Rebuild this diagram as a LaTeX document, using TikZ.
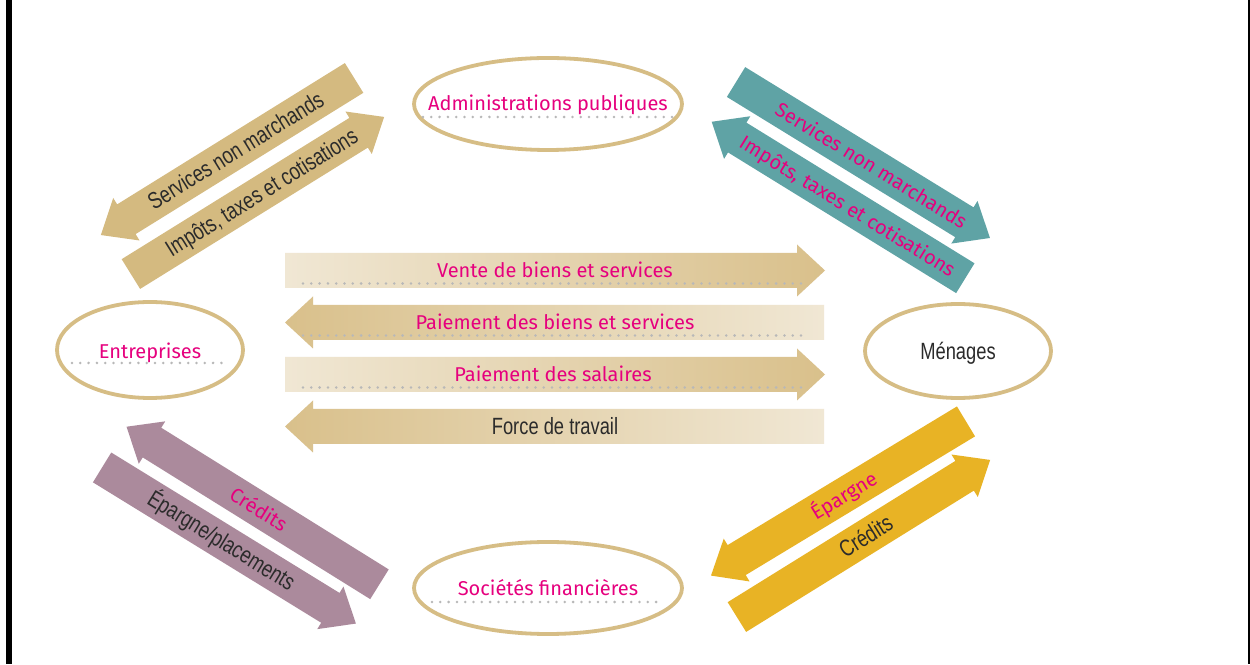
\documentclass[tikz,border=0pt]{standalone}
\usepackage{fontspec}
\setmainfont{Fira Sans}
\newfontfamily\condfont[FakeStretch=0.78]{Liberation Sans}
\usetikzlibrary{shapes.geometric}
\definecolor{mypink}{HTML}{E6007E}
\definecolor{darktxt}{HTML}{2B2B2B}
\definecolor{dotgray}{HTML}{B8B8B8}
\definecolor{ellcol}{HTML}{D6BD85}
\definecolor{tanA}{HTML}{D4BA80}
\definecolor{lightG}{HTML}{F0E7D4}
\definecolor{darkG}{HTML}{D9C08B}
\definecolor{tealA}{HTML}{5FA3A5}
\definecolor{mauveA}{HTML}{AB8A9C}
\definecolor{goldA}{HTML}{E8B325}

% diagonal arrow: cx, cy, angle, side (l/r), colour, text x offset, text style, text
\newcommand\darrow[8]{%
 \begin{scope}[shift={(#1,#2)},rotate=#3]
  \ifx l#4
   \fill[#5] (-149,0) -- (-119,25) -- (-119,17.5) -- (149,17.5) -- (149,-17.5) -- (-119,-17.5) -- (-119,-25) -- cycle;
  \else
   \fill[#5] (149,0) -- (119,25) -- (119,17.5) -- (-149,17.5) -- (-149,-17.5) -- (119,-17.5) -- (119,-25) -- cycle;
  \fi
  \node[#7,transform shape,anchor=base] at (#6,-7.5) {#8};
 \end{scope}}
% dotted underline inside a diagonal arrow: cx, cy, angle, side
\newcommand\dotrow[4]{%
 \begin{scope}[shift={(#1,#2)},rotate=#3]
  \ifx l#4 \draw[dotline] (-119,-13) -- (140,-13);
  \else \draw[dotline] (-140,-13) -- (119,-13); \fi
 \end{scope}}
% horizontal arrows (y centre in y-up coordinates)
\newcommand\harrowR[1]{(285,#1+17.5) -- (797,#1+17.5) -- (797,#1+26) -- (825,#1) -- (797,#1-26) -- (797,#1-17.5) -- (285,#1-17.5) -- cycle}
\newcommand\harrowL[1]{(824,#1+17.5) -- (313,#1+17.5) -- (313,#1+26) -- (285,#1) -- (313,#1-26) -- (313,#1-17.5) -- (824,#1-17.5) -- cycle}

\begin{document}
\begin{tikzpicture}[x=1pt,y=1pt,
  ptext/.style={text=mypink,font=\fontsize{20}{22}\selectfont,inner sep=0pt},
  dtext/.style={text=darktxt,font=\condfont\fontsize{23.5}{26}\selectfont,inner sep=0pt},
  dotline/.style={draw=dotgray,line width=2.8pt,line cap=round,dash pattern=on 0pt off 8.3pt},
  ell/.style={ellipse,draw=ellcol,line width=3.8pt,inner sep=0pt}]
\useasboundingbox (0,0) rectangle (1250,664);
\fill[white] (0,0) rectangle (1250,664);
\fill[black] (6,0) rectangle (12,664);
\fill[black] (1248,0) rectangle (1250,664);

% ellipses (agents)
\node[ell,minimum width=268pt,minimum height=92pt] (adm) at (548,560) {};
\node[ell,minimum width=186pt,minimum height=96pt] (ent) at (150,314) {};
\node[ell,minimum width=186pt,minimum height=94pt] (men) at (958,313) {};
\node[ell,minimum width=268pt,minimum height=92pt] (soc) at (548,76) {};
\node[ptext,anchor=base] (admT) at ([yshift=-7pt]adm.center) {Administrations publiques};
\draw[dotline] ([xshift=-125pt,yshift=-13pt]adm.center) -- ([xshift=124pt,yshift=-13pt]adm.center);
\node[ptext,anchor=base] (entT) at ([yshift=-9pt]ent.center) {Entreprises};
\draw[dotline] ([xshift=-78pt,yshift=-13pt]ent.center) -- ([xshift=78pt,yshift=-13pt]ent.center);
\node[dtext,anchor=base] (menT) at ([yshift=-8.5pt]men.center) {Ménages};
\node[ptext,anchor=base] (socT) at ([yshift=-8pt]soc.center) {Sociétés financières};
\draw[dotline] ([xshift=-116pt,yshift=-14pt]soc.center) -- ([xshift=115pt,yshift=-14pt]soc.center);

% horizontal flows
\path[left color=lightG,right color=darkG] \harrowR{393.5};
\path[left color=darkG,right color=lightG] \harrowL{341.5};
\path[left color=lightG,right color=darkG] \harrowR{289.5};
\path[left color=darkG,right color=lightG] \harrowL{237.5};
\draw[dotline] (303,380.5) -- (806,380.5);
\draw[dotline] (303,328.5) -- (806,328.5);
\draw[dotline] (303,276.5) -- (806,276.5);
\node[ptext,anchor=base] (f1) at (555,386) {Vente de biens et services};
\node[ptext,anchor=base] (f2) at (555,334) {Paiement des biens et services};
\node[ptext,anchor=base] (f3) at (553,282) {Paiement des salaires};
\node[dtext,anchor=base] (f4) at (555,229) {Force de travail};

% Entreprises <-> Administrations publiques
\darrow{227.5}{507.5}{31.82}{l}{tanA}{10}{dtext}{Services non marchands}
\darrow{257.5}{468.5}{31.82}{r}{tanA}{5}{dtext}{Impôts, taxes et cotisations}
% Administrations publiques <-> Ménages
\dotrow{863}{504}{-31.56}{r}
\darrow{863}{504}{-31.56}{r}{tealA}{10}{ptext}{Services non marchands}
\dotrow{838.5}{464}{-31.66}{l}
\darrow{838.5}{464}{-31.66}{l}{tealA}{11}{ptext}{Impôts, taxes et cotisations}
% Entreprises <-> Sociétés financières
\dotrow{253}{158.5}{-31.92}{l}
\darrow{253}{158.5}{-31.92}{l}{mauveA}{7}{ptext}{Crédits}
\darrow{229}{118.5}{-31.6}{r}{mauveA}{-9}{dtext}{Épargne/placements}
% Ménages <-> Sociétés financières
\dotrow{838.5}{165.5}{31.16}{l}
\darrow{838.5}{165.5}{31.16}{l}{goldA}{6}{ptext}{Épargne}
\darrow{863.5}{125.5}{31.82}{r}{goldA}{3}{dtext}{Crédits}
\end{tikzpicture}
\end{document}
